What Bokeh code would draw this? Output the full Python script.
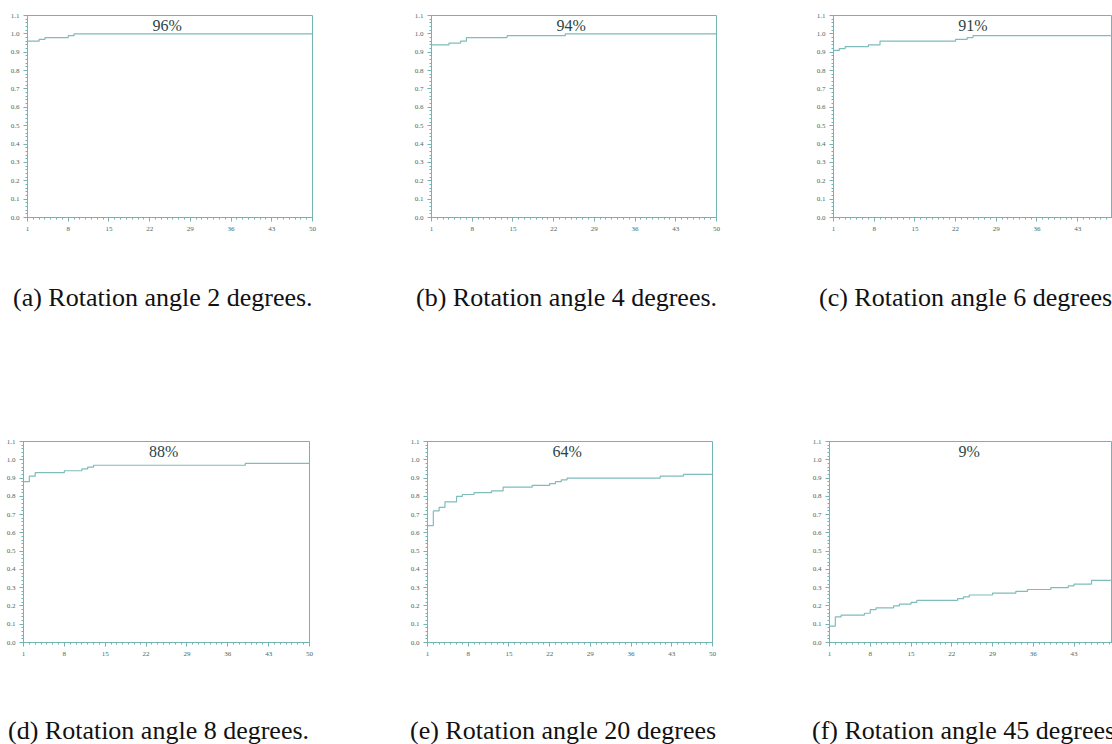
from bokeh.plotting import figure
from bokeh.layouts import column, row
from bokeh.models import Range1d, FixedTicker, PrintfTickFormatter, Label, Div
from bokeh.embed import file_html
from bokeh.resources import INLINE

# ---------------- data ----------------
x_ticks = [1, 8, 15, 22, 29, 36, 43, 50]
y_ticks = [0.0, 0.1, 0.2, 0.3, 0.4, 0.5, 0.6, 0.7, 0.8, 0.9, 1.0, 1.1]

rank_a = [1, 3, 4, 8, 9, 50]
cmc_a = [0.96, 0.97, 0.98, 0.99, 1.00, 1.00]

rank_b = [1, 4, 6, 7, 14, 24, 50]
cmc_b = [0.94, 0.95, 0.96, 0.98, 0.99, 1.00, 1.00]

rank_c = [1, 2, 3, 7, 9, 22, 24, 25, 50]
cmc_c = [0.91, 0.92, 0.93, 0.94, 0.96, 0.97, 0.98, 0.99, 0.99]

rank_d = [1, 2, 3, 8, 11, 12, 13, 39, 50]
cmc_d = [0.88, 0.91, 0.93, 0.94, 0.95, 0.96, 0.97, 0.98, 0.98]

rank_e = [1, 2, 3, 4, 6, 7, 9, 12, 14, 19, 22, 23, 24, 25, 41, 45, 50]
cmc_e = [0.64, 0.72, 0.74, 0.77, 0.80, 0.81, 0.82, 0.83, 0.85, 0.86,
         0.87, 0.88, 0.89, 0.90, 0.91, 0.92, 0.92]

rank_f = [1, 2, 3, 7, 8, 9, 12, 13, 15, 16, 23, 24, 25, 29, 33, 35, 39,
          42, 43, 46, 50]
cmc_f = [0.09, 0.14, 0.15, 0.16, 0.18, 0.19, 0.20, 0.21, 0.22, 0.23, 0.24,
         0.25, 0.26, 0.27, 0.28, 0.29, 0.30, 0.31, 0.32, 0.34, 0.34]

rank1_labels = ["96%", "94%", "91%", "88%", "64%", "9%"]
captions = ["(a) Rotation angle 2 degrees.",
            "(b) Rotation angle 4 degrees.",
            "(c) Rotation angle 6 degrees.",
            "(d) Rotation angle 8 degrees.",
            "(e) Rotation angle 20 degrees",
            "(f) Rotation angle 45 degrees"]

# ---------------- styling ----------------
TEAL = "#72b3b3"
LINE = "#7fbcbc"
LABEL = "#3e6a6a"
TXT = "#2e4444"


def panel(ranks, vals, pct, width, height, bl, br, bt, bb, x_end):
    p = figure(width=width, height=height, output_backend="svg",
               toolbar_location=None, x_range=Range1d(1, x_end),
               y_range=Range1d(0, 1.1), min_border_left=bl,
               min_border_right=br, min_border_top=bt, min_border_bottom=bb)
    p.xgrid.visible = False
    p.ygrid.visible = False
    p.outline_line_color = TEAL
    p.outline_line_width = 1
    p.background_fill_color = "white"
    p.border_fill_color = "white"

    p.xaxis.ticker = FixedTicker(ticks=x_ticks,
                                 minor_ticks=list(range(1, 51)))
    p.yaxis.ticker = FixedTicker(ticks=y_ticks,
                                 minor_ticks=[i * 0.02 for i in range(56)])
    p.yaxis.formatter = PrintfTickFormatter(format="%.1f")
    for ax in (p.xaxis[0], p.yaxis[0]):
        ax.axis_line_color = TEAL
        ax.major_tick_line_color = TEAL
        ax.minor_tick_line_color = TEAL
        ax.major_tick_in = 0
        ax.major_tick_out = 4
        ax.minor_tick_in = 0
        ax.minor_tick_out = 2
        ax.major_label_text_font = "Liberation Serif"
        ax.major_label_text_font_size = "7px"
        ax.major_label_text_color = LABEL
    p.xaxis.major_label_standoff = 5
    p.yaxis.major_label_standoff = 4

    p.step(ranks, vals, mode="after", line_color=LINE, line_width=1.2)

    p.add_layout(Label(x=25, y=1.046, text=pct, text_align="center",
                       text_baseline="middle", text_font="Liberation Serif",
                       text_font_size="16px", text_color=TXT))
    return p


def cap(text, width, height, pad_left, pad_top, size):
    html = (f'<span style="font-family: \'Liberation Serif\', \'Times New Roman\', serif; '
            f'font-size: {size}; line-height: {size}; color: #111111; '
            f'white-space: nowrap;">{text}</span>')
    return Div(text=html, width=width, height=height, margin=0,
               styles={"overflow": "hidden", "white-space": "nowrap",
                       "padding-left": f"{pad_left}px",
                       "padding-top": f"{pad_top}px",
                       "line-height": size,
                       "box-sizing": "border-box"})


pa = panel(rank_a, cmc_a, rank1_labels[0], 400, 260, 27, 88, 15, 43, 50)
pb = panel(rank_b, cmc_b, rank1_labels[1], 402, 260, 31, 86, 15, 43, 50)
pc = panel(rank_c, cmc_c, rank1_labels[2], 310, 260, 31, 0, 15, 43, 49.0)
pd = panel(rank_d, cmc_d, rank1_labels[3], 400, 315, 23, 91, 69, 45, 50)
pe = panel(rank_e, cmc_e, rank1_labels[4], 402, 315, 27, 90, 69, 45, 50)
pf = panel(rank_f, cmc_f, rank1_labels[5], 310, 315, 27, 0, 69, 45, 49.6)

ca = cap(captions[0], 400, 112, 13, 25, "26px")
cb = cap(captions[1], 402, 112, 16, 25, "26px")
cc = cap(captions[2], 310, 112, 17, 25, "26px")
cd = cap(captions[3], 400, 57, 8, 31, "26px")
ce = cap(captions[4], 402, 57, 10, 31, "26px")
cf = cap(captions[5], 310, 57, 10, 31, "26px")

layout = column(row(pa, pb, pc, spacing=0),
                row(ca, cb, cc, spacing=0),
                row(pd, pe, pf, spacing=0),
                row(cd, ce, cf, spacing=0),
                spacing=0)

open("out.html", "w").write(file_html(layout, INLINE))
